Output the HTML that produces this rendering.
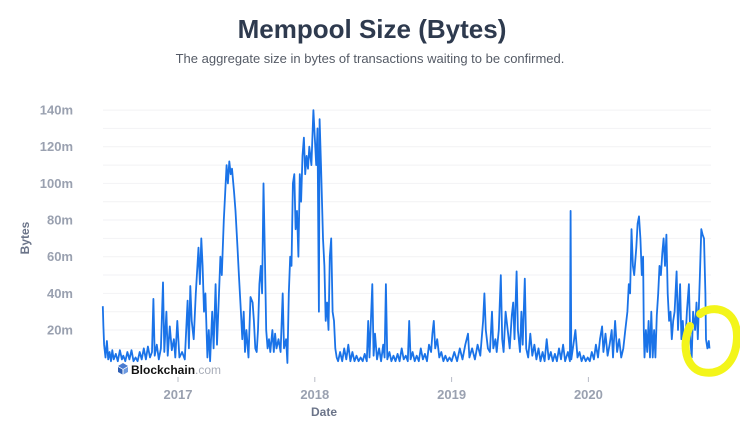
<!DOCTYPE html>
<html><head><meta charset="utf-8">
<style>
html,body{margin:0;padding:0;background:#fff;width:740px;height:421px;overflow:hidden}
svg text{font-family:"Liberation Sans",sans-serif}
</style></head>
<body>
<svg width="740" height="421" viewBox="0 0 740 421">
<text x="372" y="38" text-anchor="middle" font-size="26" font-weight="bold" fill="#2e3a4e">Mempool Size (Bytes)</text>
<text x="370" y="63" text-anchor="middle" font-size="13" fill="#555b66">The aggregate size in bytes of transactions waiting to be confirmed.</text>
<g id="grid"></g>
<g id="yaxis"></g>
<g id="xaxis"></g>
<text x="29" y="238" text-anchor="middle" font-size="12" font-weight="bold" fill="#6b7489" transform="rotate(-90 29 238)">Bytes</text>
<text x="324" y="416" text-anchor="middle" font-size="12" font-weight="bold" fill="#6b7489">Date</text>
<path id="line" fill="none" stroke="#1a73e8" stroke-width="1.8" stroke-linejoin="round"></path>
<g>
<path d="M118 366 l5 -3 l5 3 l-5 3z" fill="#4a7bd0"/>
<path d="M118 367 l4.5 2.5 v5 l-4.5 -2.5z" fill="#2f5fb5"/>
<path d="M128 367 l-4.5 2.5 v5 l4.5 -2.5z" fill="#6f9be0"/>
<text x="131" y="374" font-size="12" font-weight="bold" fill="#111">Blockchain<tspan font-weight="normal" fill="#a8adb8">.com</tspan></text>
</g>
<path d="M700 314 C712 304 738 308 737 338 C736 362 722 376 702 372 C686 368 681 345 690 326" fill="none" stroke="#f3f51a" stroke-width="8" stroke-linecap="round"/>
</svg>
<script>
const yTicks=[20,40,60,80,100,120,140];
const yTickLabels=["20m","40m","60m","80m","100m","120m","140m"];
const xTicks=[2017,2018,2019,2020];
const xTickLabels=["2017","2018","2019","2020"];
const dates=[2016.45,2016.455,2016.46,2016.47,2016.48,2016.49,2016.50,2016.51,2016.52,2016.53,2016.545,2016.56,2016.575,2016.59,2016.60,2016.615,2016.63,2016.645,2016.66,2016.675,2016.69,2016.705,2016.72,2016.735,2016.75,2016.765,2016.78,2016.795,2016.81,2016.82,2016.83,2016.845,2016.86,2016.875,2016.89,2016.90,2016.915,2016.925,2016.94,2016.955,2016.97,2016.98,2016.995,2017.01,2017.03,2017.05,2017.07,2017.08,2017.09,2017.10,2017.115,2017.13,2017.15,2017.16,2017.17,2017.18,2017.19,2017.20,2017.215,2017.225,2017.235,2017.25,2017.26,2017.275,2017.285,2017.30,2017.31,2017.32,2017.335,2017.345,2017.355,2017.365,2017.375,2017.385,2017.395,2017.41,2017.42,2017.435,2017.445,2017.46,2017.47,2017.48,2017.49,2017.50,2017.515,2017.53,2017.545,2017.555,2017.565,2017.575,2017.585,2017.595,2017.605,2017.615,2017.625,2017.635,2017.645,2017.655,2017.665,2017.675,2017.69,2017.70,2017.71,2017.72,2017.735,2017.75,2017.765,2017.775,2017.79,2017.80,2017.81,2017.82,2017.83,2017.84,2017.85,2017.86,2017.87,2017.88,2017.89,2017.90,2017.91,2017.92,2017.93,2017.94,2017.95,2017.96,2017.975,2017.99,2018.0,2018.01,2018.02,2018.03,2018.035,2018.045,2018.06,2018.07,2018.08,2018.09,2018.10,2018.11,2018.12,2018.13,2018.14,2018.15,2018.16,2018.17,2018.185,2018.2,2018.215,2018.23,2018.245,2018.26,2018.275,2018.29,2018.305,2018.32,2018.335,2018.35,2018.365,2018.38,2018.39,2018.40,2018.42,2018.43,2018.44,2018.455,2018.47,2018.485,2018.50,2018.51,2018.52,2018.53,2018.545,2018.56,2018.575,2018.59,2018.605,2018.62,2018.635,2018.65,2018.665,2018.68,2018.69,2018.70,2018.715,2018.73,2018.745,2018.76,2018.775,2018.79,2018.805,2018.82,2018.835,2018.85,2018.86,2018.87,2018.88,2018.895,2018.91,2018.925,2018.94,2018.955,2018.97,2018.985,2019.0,2019.02,2019.04,2019.06,2019.08,2019.10,2019.12,2019.13,2019.15,2019.17,2019.19,2019.21,2019.23,2019.24,2019.25,2019.265,2019.28,2019.295,2019.305,2019.32,2019.33,2019.345,2019.36,2019.37,2019.38,2019.395,2019.41,2019.425,2019.44,2019.45,2019.46,2019.475,2019.485,2019.50,2019.51,2019.52,2019.535,2019.545,2019.56,2019.575,2019.59,2019.605,2019.62,2019.635,2019.65,2019.665,2019.68,2019.695,2019.71,2019.725,2019.74,2019.755,2019.77,2019.785,2019.80,2019.815,2019.83,2019.85,2019.865,2019.87,2019.875,2019.89,2019.905,2019.92,2019.935,2019.95,2019.965,2019.98,2019.995,2020.01,2020.025,2020.04,2020.055,2020.07,2020.085,2020.10,2020.11,2020.125,2020.14,2020.155,2020.17,2020.18,2020.195,2020.21,2020.225,2020.24,2020.255,2020.27,2020.285,2020.295,2020.305,2020.315,2020.325,2020.335,2020.35,2020.36,2020.37,2020.38,2020.39,2020.40,2020.405,2020.41,2020.42,2020.43,2020.44,2020.45,2020.46,2020.47,2020.48,2020.49,2020.50,2020.51,2020.52,2020.53,2020.54,2020.55,2020.56,2020.57,2020.58,2020.59,2020.60,2020.61,2020.62,2020.63,2020.645,2020.655,2020.67,2020.68,2020.69,2020.70,2020.71,2020.72,2020.735,2020.745,2020.755,2020.765,2020.78,2020.79,2020.80,2020.815,2020.825,2020.835,2020.845,2020.855,2020.86,2020.87,2020.88,2020.885];
const sizes=[33,22,12,5,14,4,8,3,9,4,7,3,9,4,6,3,8,4,9,3,5,3,8,4,10,4,11,5,8,37,6,12,4,10,46,8,30,6,22,9,15,5,25,5,8,4,36,10,44,25,15,40,65,45,70,55,30,40,5,20,3,30,10,45,12,40,60,50,80,95,110,100,112,105,108,95,85,65,50,30,15,30,8,20,5,38,35,25,10,8,20,45,55,40,100,60,20,10,15,8,20,8,18,10,15,8,40,10,15,2,40,60,55,100,105,75,85,60,105,90,115,125,105,115,108,120,110,140,125,110,130,30,135,110,70,55,25,35,20,60,70,30,25,10,5,3,8,3,10,4,12,3,8,3,6,3,5,3,7,3,25,5,45,6,18,4,10,3,12,5,45,4,8,3,6,3,7,3,10,4,6,3,25,4,8,3,6,3,10,4,7,3,12,8,18,25,10,15,5,8,3,6,3,5,3,8,3,10,4,12,18,5,10,4,12,6,25,40,20,10,8,30,10,15,8,20,50,15,8,30,20,10,28,35,15,52,20,8,30,12,48,10,5,18,6,12,4,10,3,8,3,15,4,8,3,7,3,10,4,12,3,8,3,85,4,12,20,5,8,3,6,3,5,3,8,4,12,5,15,22,8,18,6,12,20,5,25,8,15,5,10,20,30,45,40,75,55,50,65,78,82,70,50,60,20,5,20,8,25,5,30,5,20,5,28,40,55,50,62,70,55,72,40,25,30,15,25,30,52,20,45,15,25,10,15,30,45,15,5,30,20,35,15,50,75,72,70,40,15,10,14,10];
const X=y=>178+(y-2017)*136.8;
const Y=v=>366.7-v*1.833;
const NS='http://www.w3.org/2000/svg';
const grid=document.getElementById('grid'),ya=document.getElementById('yaxis'),xa=document.getElementById('xaxis');
for(let v=10;v<=140;v+=10){const l=document.createElementNS(NS,'line');


l.setAttribute('x1',103);l.setAttribute('x2',711);l.setAttribute('y1',Y(v));l.setAttribute('y2',Y(v));l.setAttribute('stroke','#f2f2f4');l.setAttribute('stroke-width','1');grid.appendChild(l);}
yTicks.forEach((v,i)=>{const t=document.createElementNS(NS,'text');


t.setAttribute('x',73);t.setAttribute('y',Y(v)+4.5);t.setAttribute('text-anchor','end');t.setAttribute('font-size','13');t.setAttribute('font-weight','bold');t.setAttribute('fill','#9aa1b0');t.textContent=yTickLabels[i];ya.appendChild(t);});
xTicks.forEach((v,i)=>{const l=document.createElementNS(NS,'line');


l.setAttribute('x1',X(v));l.setAttribute('x2',X(v));l.setAttribute('y1',377);l.setAttribute('y2',382);l.setAttribute('stroke','#b8bcc6');xa.appendChild(l);
const t=document.createElementNS(NS,'text');


t.setAttribute('x',X(v));t.setAttribute('y',399);t.setAttribute('text-anchor','middle');t.setAttribute('font-size','13');t.setAttribute('font-weight','bold');t.setAttribute('fill','#9aa1b0');t.textContent=xTickLabels[i];xa.appendChild(t);});
document.getElementById('line').setAttribute('d',dates.map((d,i)=>(i?'L':'M')+X(d).toFixed(1)+' '+Y(sizes[i]).toFixed(1)).join(''));
</script>
</body></html>
